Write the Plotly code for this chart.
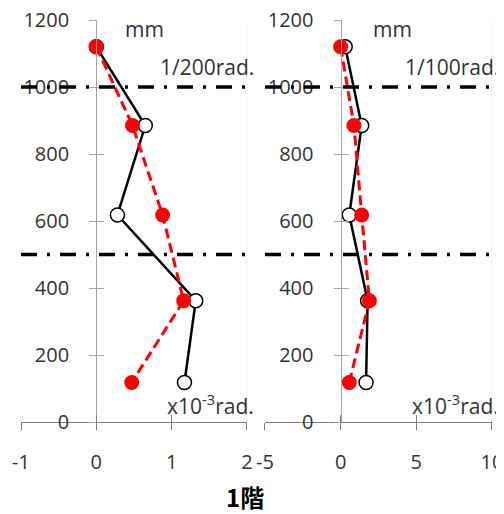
import plotly.graph_objects as go

# ---- data ----
heights = [1120, 885, 618, 362, 118]          # mm
left_black = [0.0, 0.65, 0.28, 1.32, 1.17]    # x10^-3 rad
left_red = [0.0, 0.48, 0.88, 1.16, 0.47]
right_black = [0.3, 1.39, 0.57, 1.78, 1.68]
right_red = [0.0, 0.88, 1.39, 1.90, 0.57]
levels = [1000, 500]
left_ticks = [-1, 0, 1, 2]
left_ticktext = ["-1", "0", "1", "2"]
right_ticks = [-5, 0, 5, 10]
right_ticktext = ["-5", "0", "5", "10"]
y_ticks = [0, 200, 400, 600, 800, 1000, 1200]
left_range = [-1, 2]
right_range = [-5, 10]
y_range = [0, 1200]
title_text = "1階"
unit_y = "mm"
unit_x = "x10<sup>-3</sup>rad."
left_label = "1/200rad."
right_label = "1/100rad."

FONT = "Open Sans"
TXT = "#333333"
FS = 20
FA = 21

fig = go.Figure()

def add_panel(xs_black, xs_red, xa, ya):
    fig.add_trace(go.Scatter(
        x=xs_black, y=heights, xaxis=xa, yaxis=ya, mode="lines+markers",
        line=dict(color="black", width=2.5),
        marker=dict(symbol="circle", size=14, color="white",
                    line=dict(color="black", width=1.5)),
        showlegend=False, cliponaxis=False))
    fig.add_trace(go.Scatter(
        x=xs_red, y=heights, xaxis=xa, yaxis=ya, mode="lines+markers",
        line=dict(color="#ff0000", width=3, dash="10px,5px"),
        marker=dict(symbol="circle", size=15, color="#ff0000"),
        showlegend=False, cliponaxis=False))

add_panel(left_black, left_red, "x", "y")
add_panel(right_black, right_red, "x2", "y2")
# empty traces to realise the overlay axes (inner half of crossing ticks)
fig.add_trace(go.Scatter(x=[], y=[], xaxis="x3", yaxis="y3", showlegend=False))
fig.add_trace(go.Scatter(x=[], y=[], xaxis="x4", yaxis="y4", showlegend=False))

dl = [0, 0.4798]
dr = [0.518, 1.0]
pl = dl[0] + (dl[1] - dl[0]) / 3
pr = dr[0] + (dr[1] - dr[0]) / 3

xcommon = dict(showgrid=False, zeroline=False, ticks="outside", ticklen=7,
               tickcolor="#7f7f7f", tickwidth=1.3, showline=True,
               linecolor="#7f7f7f", linewidth=1.3, automargin=False,
               ticklabeloverflow="allow",
               tickfont=dict(family=FONT, size=FS, color=TXT),
               ticklabelstandoff=15)
ycommon = dict(showgrid=False, zeroline=False, ticks="outside", ticklen=7,
               tickcolor="#a6a6a6", tickwidth=1.3, showline=True,
               linecolor="#a6a6a6", linewidth=1.3, range=y_range,
               tickvals=y_ticks, anchor="free", automargin=False,
               ticklabeloverflow="allow",
               tickfont=dict(family=FONT, size=FS, color=TXT),
               ticklabelstandoff=16)
xin = dict(showgrid=False, zeroline=False, ticks="inside", ticklen=7,
           tickcolor="#7f7f7f", tickwidth=1.3, showline=False,
           showticklabels=False, automargin=False)
yin = dict(showgrid=False, zeroline=False, ticks="inside", ticklen=7,
           tickcolor="#a6a6a6", tickwidth=1.3, showline=False,
           showticklabels=False, range=y_range, tickvals=y_ticks,
           anchor="free", automargin=False)

# page body has an 8px margin, so the figure is shrunk/shifted accordingly
fig.update_layout(
    width=496, height=506,
    margin=dict(l=13, r=12, t=12, b=92, autoexpand=False),
    paper_bgcolor="white", plot_bgcolor="white",
    xaxis=dict(domain=dl, range=left_range, tickvals=left_ticks, ticktext=left_ticktext,
               anchor="y", **xcommon),
    yaxis=dict(domain=[0, 1], position=pl, **ycommon),
    xaxis2=dict(domain=dr, range=right_range, tickvals=right_ticks, ticktext=right_ticktext,
                anchor="y2", **xcommon),
    yaxis2=dict(domain=[0, 1], position=pr, **ycommon),
    xaxis3=dict(domain=dl, range=left_range, tickvals=left_ticks, anchor="y3",
                overlaying="x", **xin),
    yaxis3=dict(domain=[0, 1], position=pl, overlaying="y", **yin),
    xaxis4=dict(domain=dr, range=right_range, tickvals=right_ticks, anchor="y4",
                overlaying="x2", **xin),
    yaxis4=dict(domain=[0, 1], position=pr, overlaying="y2", **yin),
)

shapes = []
for xr, rng in (("x", left_range), ("x2", right_range)):
    for lv in levels:
        shapes.append(dict(type="line", xref=xr, yref="y", x0=rng[0], x1=rng[1],
                           y0=lv, y1=lv, layer="above",
                           line=dict(color="black", width=3.5, dash="16px,10px,3px,10px")))
    # faint plot-area border on the right edge
    shapes.append(dict(type="line", xref=xr, yref="y", x0=rng[1], x1=rng[1],
                       y0=y_range[0], y1=y_range[1], layer="below",
                       line=dict(color="#e8e8e8", width=1)))
fig.update_layout(shapes=shapes)

ann = []
for xr, rng, lab, mmx in (("x", left_range, left_label, 0.64),
                          ("x2", right_range, right_label, 3.4)):
    ann.append(dict(x=mmx, y=1172, xref=xr, yref="y", text=unit_y, showarrow=False,
                    font=dict(family=FONT, size=FA, color=TXT)))
    ann.append(dict(x=rng[1], y=1060, xref=xr, yref="y", text=lab,
                    showarrow=False, xanchor="right", xshift=9,
                    font=dict(family=FONT, size=FA, color=TXT)))
    ann.append(dict(x=rng[1], y=52, xref=xr, yref="y", text=unit_x,
                    showarrow=False, xanchor="right", xshift=9,
                    font=dict(family=FONT, size=FA, color=TXT)))
ann.append(dict(x=0.476, y=-0.186, xref="paper", yref="paper", text="<b>" + title_text + "</b>",
                showarrow=False, yanchor="middle",
                font=dict(family="Noto Sans CJK JP", size=24, color="black")))
fig.update_layout(annotations=ann)

fig.write_html("out.html")
